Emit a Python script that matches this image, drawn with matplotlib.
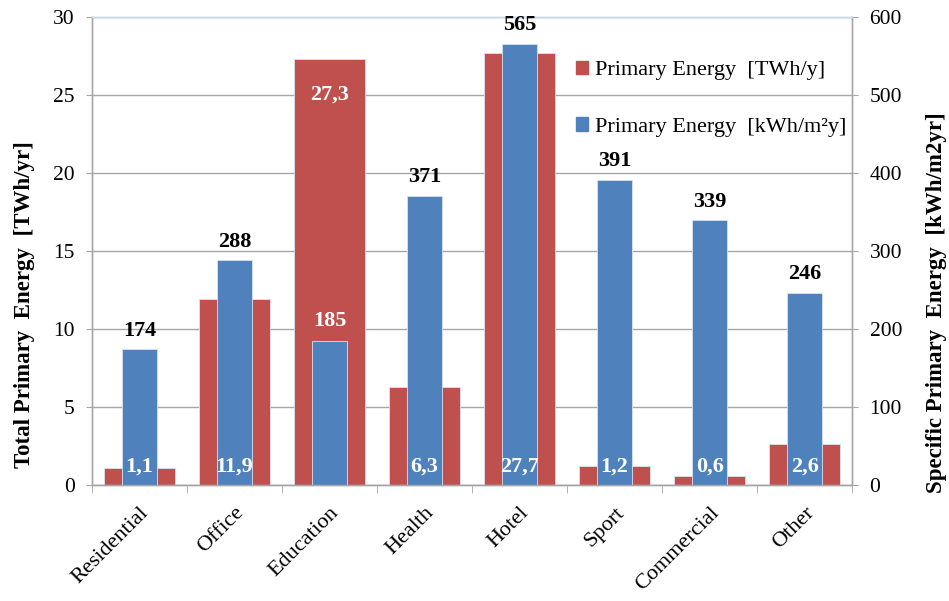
import matplotlib
matplotlib.use("Agg")
import matplotlib.pyplot as plt
from matplotlib.patches import Patch
import numpy as np

plt.rcParams['font.family'] = ['Liberation Serif', 'DejaVu Serif']

categories = ["Residential", "Office", "Education", "Health", "Hotel", "Sport", "Commercial", "Other"]
total_twh = [1.1, 11.9, 27.3, 6.3, 27.7, 1.2, 0.6, 2.6]
specific_kwh = [174, 288, 185, 371, 565, 391, 339, 246]
left_ticks = [0, 5, 10, 15, 20, 25, 30]
right_ticks = [0, 100, 200, 300, 400, 500, 600]

red = "#C0504D"
blue = "#4F81BD"
grid_gray = "#A6A6A6"

fig = plt.figure(figsize=(9.49, 6.01), dpi=100)
ax = fig.add_axes([0.097, 0.193, 0.801, 0.779])
ax2 = ax.twinx()

x = np.arange(len(categories))
ax.bar(x, total_twh, width=0.75, color=red, edgecolor="#D9E2F0", linewidth=0.6, zorder=2)
ax2.bar(x, specific_kwh, width=0.37, color=blue, edgecolor="#D9E2F0", linewidth=0.6, zorder=2)

ax.set_xlim(-0.5, len(categories) - 0.5)
ax.set_ylim(0, 30)
ax2.set_ylim(0, 600)
ax.set_yticks(left_ticks)
ax2.set_yticks(right_ticks)
ax.yaxis.grid(True, color=grid_gray, linewidth=1.0, zorder=0)
ax.set_axisbelow(True)

for a in (ax, ax2):
    for s in a.spines.values():
        s.set_color(grid_gray)
        s.set_linewidth(1.0)
    a.spines['top'].set_color("#C6D9F1")
    a.tick_params(axis='y', length=4.5, color=grid_gray, labelsize=15.5, pad=8)

ax.set_xticks(x)
ax.set_xticklabels(categories, rotation=45, ha='right', rotation_mode='anchor', fontsize=16)
ax.tick_params(axis='x', which='major', length=0, pad=13)
ax.set_xticks(np.arange(-0.5, len(categories), 1.0), minor=True)
ax.tick_params(axis='x', which='minor', length=6, color=grid_gray)

# value labels: specific energy above the blue bars, total energy inside the bars
for i, (t, s) in enumerate(zip(total_twh, specific_kwh)):
    tl = f"{t:.1f}".replace('.', ',')
    if categories[i] == "Education":
        ax2.text(i, s + 25, str(s), ha='center', va='center', fontsize=16,
                 fontweight='bold', color='white', zorder=5)
        ax.text(i, t - 2.3, tl, ha='center', va='center', fontsize=16,
                fontweight='bold', color='white', zorder=5)
    else:
        ax2.text(i, s + 24, str(s), ha='center', va='center', fontsize=16,
                 fontweight='bold', color='black', zorder=5)
        ax2.text(i, 24, tl, ha='center', va='center', fontsize=16,
                 fontweight='bold', color='white', zorder=5)

handles = [Patch(facecolor=red, edgecolor=red), Patch(facecolor=blue, edgecolor=blue)]
labels = ["Primary Energy  [TWh/y]", "Primary Energy  [kWh/m\u00b2y]"]
ax2.legend(handles, labels, loc='upper left', bbox_to_anchor=(0.637, 0.906),
           frameon=False, fontsize=16, labelspacing=1.66, handlelength=0.55,
           handleheight=0.55, handletextpad=0.3, borderpad=0, borderaxespad=0)

fig.text(0.026, 0.494, "Total Primary  Energy  [TWh/yr]", rotation=90, ha='center',
         va='center', fontsize=16.5, fontweight='bold')
fig.text(0.987, 0.497, "Specific Primary  Energy  [kWh/m2yr]", rotation=90, ha='center',
         va='center', fontsize=16.5, fontweight='bold')

fig.savefig("out.png", dpi=100)
